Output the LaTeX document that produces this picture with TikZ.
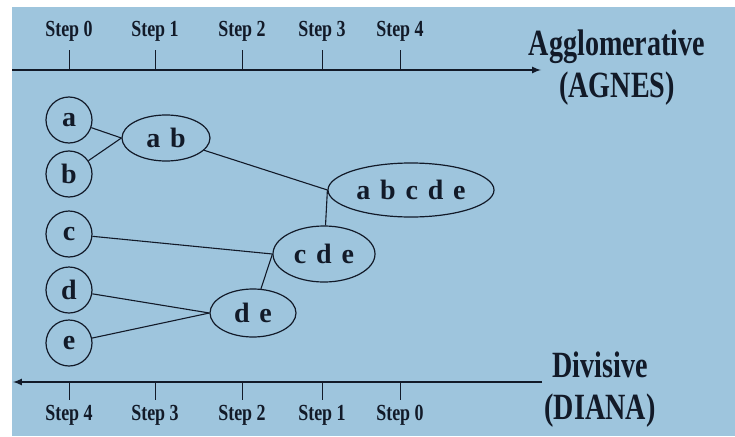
\documentclass[tikz,border=0pt]{standalone}
\usepackage{fontspec}
\setmainfont{Liberation Serif}
\newfontfamily\tallfont{Liberation Serif}[FakeStretch=0.76]
\newfontfamily\stepfont{Liberation Serif}[FakeStretch=0.78]
\usetikzlibrary{shapes.geometric,arrows,positioning}
\definecolor{bgblue}{RGB}{158,197,221}
\definecolor{ink}{RGB}{18,26,40}
\newcommand{\widespace}{\spaceskip 0.35em\relax}
\tikzstyle{leaf}=[circle,draw=ink,line width=1.2pt,minimum size=46pt,inner sep=0pt,text=ink,font=\fontsize{28}{28}\selectfont\bfseries]
\tikzstyle{cluster}=[ellipse,draw=ink,line width=1.2pt,inner sep=0pt,text=ink,font={\fontsize{28}{28}\selectfont\bfseries\widespace}]
\tikzstyle{steplabel}=[anchor=base,inner sep=0pt,text=ink,font=\stepfont\fontsize{23}{23}\selectfont\bfseries]
\tikzstyle{side}=[align=center,inner sep=0pt,text=ink,font=\tallfont\fontsize{37}{42}\selectfont\bfseries]
\tikzstyle{axis}=[line width=2pt,draw=ink]
\tikzstyle{tick}=[line width=0.9pt,draw=ink]
\tikzstyle{link}=[line width=1.1pt,draw=ink]
\tikzset{>=latex}

\begin{document}
\begin{tikzpicture}[x=1pt,y=-1pt]

    \fill[white] (0,0) rectangle (735,436);
    \fill[bgblue] (12,7) rectangle (735,436);

    % agglomerative axis
    \coordinate (agl) at (12,70);
    \coordinate (agr) at (541,70);
    \draw[axis,->] (agl) -- (agr);
    \coordinate (ta0) at (69,70);
    \coordinate (ta1) at (155,70);
    \coordinate (ta2) at (242,70);
    \coordinate (ta3) at (322,70);
    \coordinate (ta4) at (400,70);
    \draw[tick] (ta0) -- ++(0,-20);
    \draw[tick] (ta1) -- ++(0,-20);
    \draw[tick] (ta2) -- ++(0,-20);
    \draw[tick] (ta3) -- ++(0,-20);
    \draw[tick] (ta4) -- ++(0,-20);
    \node[steplabel] (sa0) at (69,37) {Step 0};
    \node[steplabel] (sa1) at (155,37) {Step 1};
    \node[steplabel] (sa2) at (242,37) {Step 2};
    \node[steplabel] (sa3) at (322,37) {Step 3};
    \node[steplabel] (sa4) at (400,37) {Step 4};
    \node[side] (agnes) at (617,68) {Agglomerative\\(AGNES)};

    % divisive axis
    \coordinate (dir) at (542,382);
    \coordinate (dil) at (13,382);
    \draw[axis,->] (dir) -- (dil);
    \coordinate (td4) at (69,382);
    \coordinate (td3) at (155,382);
    \coordinate (td2) at (242,382);
    \coordinate (td1) at (322,382);
    \coordinate (td0) at (400,382);
    \draw[tick] (td4) -- ++(0,18);
    \draw[tick] (td3) -- ++(0,18);
    \draw[tick] (td2) -- ++(0,18);
    \draw[tick] (td1) -- ++(0,18);
    \draw[tick] (td0) -- ++(0,18);
    \node[steplabel] (sd4) at (69,420) {Step 4};
    \node[steplabel] (sd3) at (155,420) {Step 3};
    \node[steplabel] (sd2) at (242,420) {Step 2};
    \node[steplabel] (sd1) at (322,420) {Step 1};
    \node[steplabel] (sd0) at (400,420) {Step 0};
    \node[side] (diana) at (600,390) {Divisive\\(DIANA)};

    % objects and clusters
    \node[leaf] (a) at (69,120) {a};
    \node[leaf] (b) at (69,174) {b};
    \node[leaf] (c) at (69,234) {c};
    \node[leaf] (d) at (69,290) {d};
    \node[leaf] (e) at (69,343) {e};
    \node[cluster,minimum width=88pt,minimum height=46pt] (ab) at (166,138) {a b};
    \node[cluster,minimum width=86pt,minimum height=48pt] (de) at (253,313) {d e};
    \node[cluster,minimum width=102pt,minimum height=56pt] (cde) at (324,254) {c d e};
    \node[cluster,minimum width=166pt,minimum height=54pt] (abcde) at (411,190) {a b c d e};

    \draw[link] (a) -- (ab.west);
    \draw[link] (b) -- (ab.west);
    \draw[link] (d) -- (de.west);
    \draw[link] (e) -- (de.west);
    \draw[link] (c) -- (cde.west);
    \draw[link] (de) -- (cde.west);
    \draw[link] (ab) -- (abcde.west);
    \draw[link] (cde) -- (abcde.west);
  \end{tikzpicture}
\end{document}
